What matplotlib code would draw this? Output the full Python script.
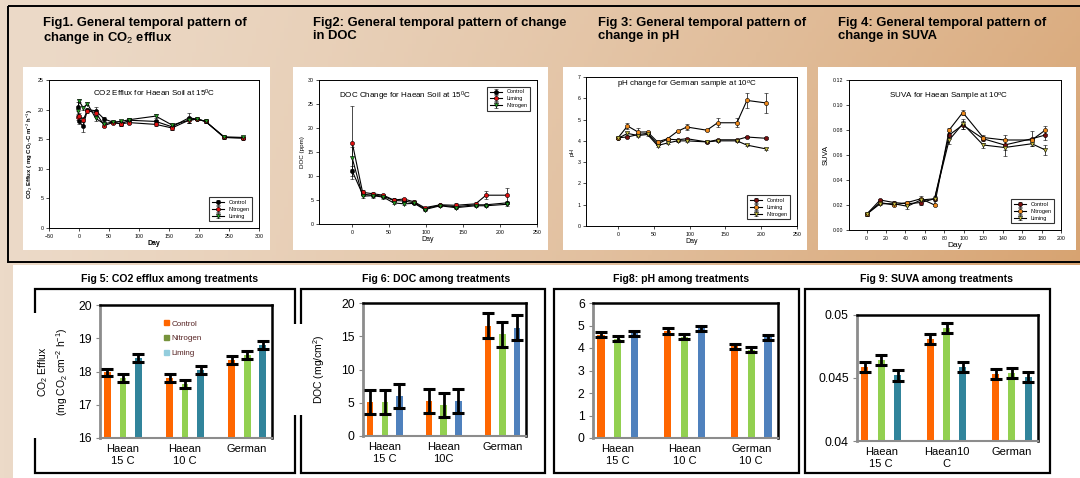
import numpy as np
import matplotlib
matplotlib.use("Agg")
import matplotlib.pyplot as plt
from matplotlib.patches import Rectangle, Patch

plt.rcParams["font.family"] = ["Liberation Sans", "DejaVu Sans"]
plt.rcParams["mathtext.fontset"] = "custom"
plt.rcParams["mathtext.rm"] = "Liberation Sans"
plt.rcParams["mathtext.it"] = "Liberation Sans:italic"
plt.rcParams["mathtext.bf"] = "Liberation Sans:bold"

W, H = 1080, 478

# ---- Fig1: CO2 efflux over time (Haean 15C)
co2_days = [-2, 0, 7, 14, 28, 42, 56, 70, 84, 128, 155, 183, 197, 211, 242, 273]
co2_control = [20.5, 18.0, 17.2, 20.0, 19.8, 18.4, 17.9, 17.6, 18.2, 18.0, 17.1, 18.6, 18.4, 18.0, 15.3, 15.2]
co2_nitrogen = [18.8, 19.0, 18.3, 19.8, 19.5, 17.3, 17.8, 17.6, 17.8, 17.5, 16.9, 18.2, 18.4, 18.0, 15.3, 15.2]
co2_liming = [19.7, 21.5, 20.3, 21.0, 18.5, 17.6, 17.9, 18.0, 18.3, 18.9, 17.4, 18.2, 18.4, 18.0, 15.4, 15.3]
co2_control_err = [0.8, 0.5, 0.9, 0.3, 0.6, 0.4, 0.2, 0.3, 0.3, 0.3, 0.5, 0.9, 0.2, 0.2, 0.2, 0.3]
co2_nitrogen_err = [0.5, 0.4, 0.4, 0.3, 0.4, 0.3, 0.2, 0.3, 0.3, 0.3, 0.4, 0.4, 0.2, 0.2, 0.2, 0.2]
co2_liming_err = [0.6, 0.3, 0.3, 0.3, 0.4, 0.3, 0.2, 0.3, 0.3, 0.3, 0.3, 0.5, 0.2, 0.2, 0.2, 0.2]

# ---- Fig2: DOC over time (Haean 15C)
doc_days = [0, 14, 28, 42, 56, 70, 84, 98, 119, 140, 167, 181, 209]
doc_control = [11.0, 6.2, 6.0, 5.8, 4.9, 4.8, 4.4, 3.2, 3.9, 3.6, 4.0, 4.0, 4.4]
doc_liming = [16.9, 6.6, 6.3, 6.0, 5.0, 5.2, 4.6, 3.4, 4.0, 3.9, 4.2, 6.0, 6.0]
doc_nitrogen = [13.7, 5.8, 5.9, 5.6, 4.4, 4.2, 4.3, 3.0, 3.8, 3.4, 3.8, 3.8, 4.1]
doc_control_err = [1.0, 0.4, 0.3, 0.3, 0.3, 0.3, 0.2, 0.2, 0.2, 0.3, 0.2, 0.2, 0.3]
doc_liming_err = [7.6, 0.5, 0.4, 0.3, 0.4, 0.3, 0.3, 0.2, 0.2, 0.4, 0.3, 0.8, 1.4]
doc_nitrogen_err = [2.3, 0.4, 0.4, 0.3, 0.3, 0.3, 0.2, 0.2, 0.2, 0.3, 0.2, 0.2, 0.3]

# ---- Fig3: pH over time (German 10C)
ph_days = [0, 13, 28, 41, 55, 69, 83, 96, 124, 139, 166, 180, 207]
ph_control = [4.15, 4.18, 4.30, 4.35, 3.85, 4.08, 4.05, 4.10, 3.95, 4.05, 4.05, 4.18, 4.12]
ph_liming = [4.15, 4.70, 4.41, 4.42, 3.95, 4.10, 4.45, 4.65, 4.50, 4.85, 4.85, 5.90, 5.78]
ph_nitrogen = [4.12, 4.35, 4.25, 4.30, 3.78, 3.90, 4.00, 4.00, 3.95, 4.00, 4.00, 3.80, 3.62]
ph_control_err = [0.04, 0.05, 0.05, 0.05, 0.05, 0.04, 0.04, 0.05, 0.04, 0.05, 0.05, 0.04, 0.04]
ph_liming_err = [0.05, 0.15, 0.18, 0.05, 0.08, 0.05, 0.05, 0.12, 0.05, 0.22, 0.22, 0.35, 0.45]
ph_nitrogen_err = [0.04, 0.08, 0.05, 0.05, 0.05, 0.04, 0.04, 0.04, 0.04, 0.04, 0.04, 0.04, 0.04]

# ---- Fig4: SUVA over time (Haean 10C)
suva_days = [0, 14, 28, 42, 56, 70, 85, 99, 120, 142, 170, 184]
suva_control = [0.0125, 0.024, 0.022, 0.021, 0.022, 0.025, 0.076, 0.084, 0.073, 0.068, 0.073, 0.076]
suva_nitrogen = [0.0125, 0.022, 0.020, 0.022, 0.025, 0.020, 0.080, 0.094, 0.074, 0.072, 0.072, 0.080]
suva_liming = [0.0125, 0.021, 0.021, 0.019, 0.024, 0.025, 0.072, 0.085, 0.068, 0.066, 0.069, 0.064]
suva_control_err = [0.001, 0.001, 0.001, 0.001, 0.002, 0.001, 0.003, 0.003, 0.002, 0.004, 0.006, 0.004]
suva_nitrogen_err = [0.001, 0.001, 0.001, 0.001, 0.002, 0.001, 0.002, 0.002, 0.002, 0.004, 0.002, 0.003]
suva_liming_err = [0.001, 0.001, 0.001, 0.002, 0.002, 0.002, 0.003, 0.004, 0.002, 0.007, 0.002, 0.004]

# ---- bar charts (Fig5, 6, 8, 9)
co2_groups = ["Haean\n15 C", "Haean\n10 C", "German"]
co2_bar_control = [17.97, 17.8, 18.35]
co2_bar_nitrogen = [17.8, 17.62, 18.5]
co2_bar_liming = [18.4, 18.05, 18.8]
co2_bar_err = [0.12, 0.12, 0.12]

doc_groups = ["Haean\n15 C", "Haean\n10C", "German"]
doc_bar_control = [5.1, 5.2, 16.6]
doc_bar_nitrogen = [5.1, 4.6, 15.3]
doc_bar_liming = [6.0, 5.3, 16.3]
doc_bar_err = [1.8, 1.8, 1.85]

ph_groups = ["Haean\n15 C", "Haean\n10 C", "German\n10 C"]
ph_bar_control = [4.6, 4.75, 4.07]
ph_bar_nitrogen = [4.42, 4.5, 3.93]
ph_bar_liming = [4.65, 4.88, 4.47]
ph_bar_err = [0.12, 0.12, 0.1]

suva_groups = ["Haean\n15 C", "Haean10\nC", "German"]
suva_bar_control = [0.0459, 0.0481, 0.0453]
suva_bar_nitrogen = [0.0464, 0.0490, 0.0454]
suva_bar_liming = [0.0452, 0.0459, 0.0451]
suva_bar_err = [0.0004, 0.0004, 0.0004]

ORANGE = "#ff6600"
GREEN = "#92d050"
TEAL = "#31849b"
BLUE = "#4f81bd"


def px_rect(x0, y0, x1, y1):
    return [x0 / W, 1 - y1 / H, (x1 - x0) / W, (y1 - y0) / H]


def line_panel(fig, box, days, series, xlim, xticks, ylim, yticks, title,
               title_xy, title_ha, xlabel_kw, ylabel, ylabel_kw, legend_loc):
    ax = fig.add_axes(px_rect(*box))
    for name, vals, errs, color, marker in series:
        ax.errorbar(days, vals, yerr=errs, color="black", lw=0.8,
                    marker=marker, ms=3, mfc=color, mec="black", mew=0.4,
                    ecolor="black", elinewidth=0.5, capsize=1.5,
                    capthick=0.5, label=name)
    ax.set_xlim(*xlim)
    ax.set_ylim(*ylim)
    ax.set_xticks(xticks)
    ax.set_yticks(yticks)
    ax.tick_params(labelsize=3.8, length=2, width=0.5, pad=2)
    for sp in ax.spines.values():
        sp.set_linewidth(0.7)
    ax.text(title_xy[0], title_xy[1], title, transform=ax.transAxes,
            ha=title_ha, va="top", fontsize=5.8)
    ax.set_xlabel("Day", labelpad=1, **xlabel_kw)
    ax.set_ylabel(ylabel, labelpad=2, **ylabel_kw)
    leg = ax.legend(loc=legend_loc, fontsize=4, frameon=True, fancybox=False,
                    edgecolor="black", handlelength=2.2, borderpad=0.5,
                    labelspacing=0.3, borderaxespad=1.2)
    leg.get_frame().set_linewidth(0.8)
    return ax


def bar_panel(fig, box, groups, control, nitrogen, liming, err, third_color,
              ylim, yticks, yticklabels=None):
    ax = fig.add_axes(px_rect(*box))
    x = np.arange(len(groups))
    offs = 0.25
    width = 0.11
    for dx, vals, color in [(-offs, control, ORANGE), (0, nitrogen, GREEN),
                            (offs, liming, third_color)]:
        ax.bar(x + dx, np.array(vals) - ylim[0], width, bottom=ylim[0],
               color=color, zorder=2)
        ax.errorbar(x + dx, vals, yerr=err, fmt="none", ecolor="black",
                    elinewidth=2, capsize=4.2, capthick=2.2, zorder=3)
    ax.set_xlim(-0.37, 2.4)
    ax.set_ylim(*ylim)
    ax.set_yticks(yticks)
    if yticklabels is not None:
        ax.set_yticklabels(yticklabels)
    ax.set_xticks(x)
    ax.set_xticklabels(groups, fontsize=8, linespacing=1.25)
    ax.tick_params(axis="x", length=0, pad=4)
    ax.tick_params(axis="y", labelsize=8.8, length=3, color="#888888", pad=3)
    ax.spines["left"].set_color("#8c8c8c")
    ax.spines["left"].set_linewidth(2)
    ax.spines["bottom"].set_color("#8c8c8c")
    ax.spines["bottom"].set_linewidth(1.5)
    ax.spines["top"].set_linewidth(1.8)
    ax.spines["right"].set_linewidth(1.8)
    return ax


fig = plt.figure(figsize=(W / 100, H / 100), dpi=100)

# background and frames drawn in pixel space
bg = fig.add_axes([0, 0, 1, 1])
bg.set_xlim(0, W)
bg.set_ylim(H, 0)
bg.axis("off")
gx, gy = np.meshgrid(np.linspace(0, 1, 270), np.linspace(0, 1, 120))
t = np.clip(0.75 * gx ** 1.3 + 0.35 * gy * gx, 0, 1)
c0 = np.array([236, 218, 200]) / 255
c1 = np.array([214, 160, 108]) / 255
grad = c0[None, None, :] * (1 - t[..., None]) + c1[None, None, :] * t[..., None]
bg.imshow(grad, extent=[0, W, H, 0], aspect="auto", zorder=0)

bg.add_patch(Rectangle((8, 6), 1100, 256, fill=False, ec="black", lw=1.4, zorder=1))
bg.add_patch(Rectangle((13, 265), W, H, fc="white", ec="none", zorder=1))
for x0, x1 in [(23, 270), (293, 548), (563, 807), (818, 1076)]:
    bg.add_patch(Rectangle((x0, 67), x1 - x0, 183, fc="white", ec="none", zorder=2))
for x0, x1 in [(35, 295), (301, 545), (554, 799), (805, 1050)]:
    bg.add_patch(Rectangle((x0, 289), x1 - x0, 184, fill=False, ec="black", lw=1.6, zorder=2))
# pasted label patches that hide bits of the frames
bg.add_patch(Rectangle((13, 313), 33, 125, fc="white", ec="none", zorder=3))
bg.add_patch(Rectangle((290, 324), 45, 91, fc="white", ec="none", zorder=3))

top_titles = [
    (43, "Fig1. General temporal pattern of\nchange in CO$_2$ efflux"),
    (313, "Fig2: General temporal pattern of change\nin DOC"),
    (598, "Fig 3: General temporal pattern of\nchange in pH"),
    (838, "Fig 4: General temporal pattern of\nchange in SUVA"),
]
for x, txt in top_titles:
    bg.text(x, 17, txt, ha="left", va="top", fontsize=9.4, fontweight="bold",
            linespacing=1.1, zorder=4)

bottom_titles = [
    (170, "Fig 5: CO2 efflux among treatments"),
    (436, "Fig 6: DOC among treatments"),
    (681, "Fig8: pH among treatments"),
    (937, "Fig 9: SUVA among treatments"),
]
for x, txt in bottom_titles:
    bg.text(x, 279, txt, ha="center", va="center", fontsize=7.6,
            fontweight="bold", zorder=4)

# ---- top line charts
line_panel(
    fig, (49, 80, 259, 228), co2_days,
    [("Control", co2_control, co2_control_err, "black", "o"),
     ("Nitrogen", co2_nitrogen, co2_nitrogen_err, "#e01010", "o"),
     ("Liming", co2_liming, co2_liming_err, "#22a022", "v")],
    (-50, 300), range(-50, 301, 50), (0, 25), range(0, 26, 5),
    "CO2 Efflux for Haean Soil at 15$^0$C", (0.5, 0.95), "center",
    {"fontsize": 5, "fontweight": "bold"},
    "CO$_2$ Efflux ( mg CO$_2$-C m$^{-2}$ h$^{-1}$)",
    {"fontsize": 4.3, "fontweight": "bold"}, "lower right")

line_panel(
    fig, (319, 80, 537, 224), doc_days,
    [("Control", doc_control, doc_control_err, "black", "o"),
     ("Liming", doc_liming, doc_liming_err, "#e01010", "o"),
     ("Nitrogen", doc_nitrogen, doc_nitrogen_err, "#22a022", "v")],
    (-45, 250), range(0, 251, 50), (0, 30), range(0, 31, 5),
    "DOC Change for Haean Soil at 15$^0$C", (0.09, 0.93), "left",
    {"fontsize": 5}, "DOC (ppm)", {"fontsize": 4.5}, "upper right")

line_panel(
    fig, (586, 77, 797, 226), ph_days,
    [("Control", ph_control, ph_control_err, "#7a1010", "o"),
     ("Liming", ph_liming, ph_liming_err, "#f08a1c", "o"),
     ("Nitrogen", ph_nitrogen, ph_nitrogen_err, "#c8c040", "v")],
    (-45, 250), range(0, 251, 50), (0, 7), range(0, 8),
    "pH change for German sample at 10$^o$C", (0.48, 0.985), "center",
    {"fontsize": 5}, "pH", {"fontsize": 4.5}, "lower right")

line_panel(
    fig, (849, 80, 1061, 230), suva_days,
    [("Control", suva_control, suva_control_err, "#7a1010", "o"),
     ("Nitrogen", suva_nitrogen, suva_nitrogen_err, "#f08a1c", "o"),
     ("Liming", suva_liming, suva_liming_err, "#c8c040", "v")],
    (-18, 200), range(0, 201, 20), (0, 0.12),
    [0.0, 0.02, 0.04, 0.06, 0.08, 0.10, 0.12],
    "SUVA for Haean Sample at 10$^o$C", (0.47, 0.93), "center",
    {"fontsize": 6}, "SUVA", {"fontsize": 5.5}, "lower right")

# ---- bottom bar charts
ax5 = bar_panel(fig, (100, 305, 272, 438), co2_groups, co2_bar_control,
                co2_bar_nitrogen, co2_bar_liming, co2_bar_err, TEAL,
                (16, 20), range(16, 21))
ax5.set_ylabel("CO$_2$ Efflux\n(mg CO$_2$ cm$^{-2}$ h$^{-1}$)", fontsize=7.5,
               linespacing=1.3, labelpad=6)
ax5.legend(handles=[Patch(color=ORANGE, label="Control"),
                    Patch(color="#77933c", label="Nitrogen"),
                    Patch(color="#93cddd", label="Liming")],
           loc="upper left", bbox_to_anchor=(0.33, 0.94), frameon=False,
           fontsize=5.8, handlelength=0.6, handleheight=0.6,
           handletextpad=0.3, labelspacing=0.9, labelcolor="#552222")

ax6 = bar_panel(fig, (363, 303, 526, 436), doc_groups, doc_bar_control,
                doc_bar_nitrogen, doc_bar_liming, doc_bar_err, BLUE,
                (0, 20), range(0, 21, 5))
ax6.set_ylabel("DOC (mg/cm$^2$)", fontsize=7.5, labelpad=10)

bar_panel(fig, (593, 303, 778, 438), ph_groups, ph_bar_control,
          ph_bar_nitrogen, ph_bar_liming, ph_bar_err, BLUE,
          (0, 6), range(0, 7))

bar_panel(fig, (857, 315, 1038, 441), suva_groups, suva_bar_control,
          suva_bar_nitrogen, suva_bar_liming, suva_bar_err, TEAL,
          (0.04, 0.05), [0.04, 0.045, 0.05], ["0.04", "0.045", "0.05"])

fig.savefig("out.png", dpi=100)
plt.close(fig)
